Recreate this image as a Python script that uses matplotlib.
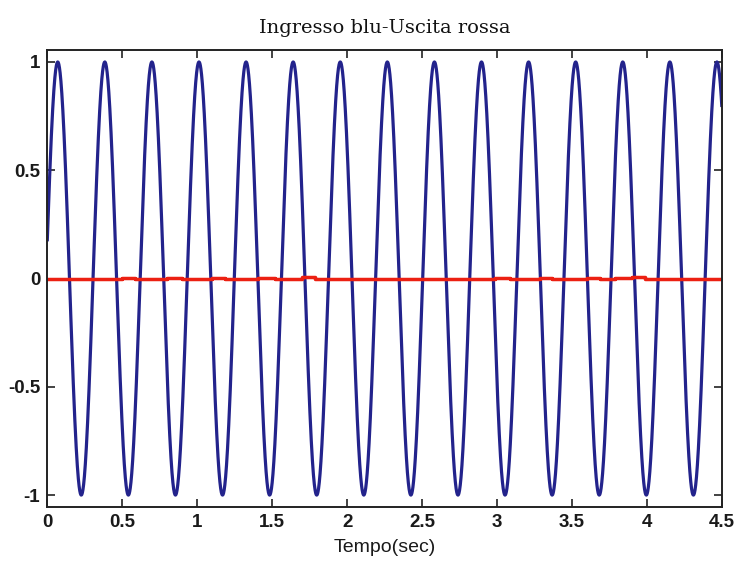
import numpy as np
import matplotlib
matplotlib.use("Agg")
import matplotlib.pyplot as plt

# ---- data ----
title = "Ingresso blu-Uscita rossa"
xlabel = "Tempo(sec)"
x_ticks = [0, 0.5, 1, 1.5, 2, 2.5, 3, 3.5, 4, 4.5]
x_tick_labels = ["0", "0.5", "1", "1.5", "2", "2.5", "3", "3.5", "4", "4.5"]
y_ticks = [-1, -0.5, 0, 0.5, 1]
y_tick_labels = ["-1", "-0.5", "0", "0.5", "1"]

# input (blue): sinusoid parameters
in_amplitude = 1.0
in_omega = 20.0      # rad/s (15 peaks over 4.5 s)
in_phase = 0.18      # rad (starts at ~0.18)
t_end = 4.5

# output (red): nearly zero, tiny bumps (step breakpoints)
red_times = [0, 0.50, 0.585, 0.80, 0.90, 0.95, 1.10, 1.185, 1.405, 1.52, 1.70,
             1.785, 1.85, 2.99, 3.085, 3.29, 3.37, 3.60, 3.69, 3.79, 3.90, 3.99, 4.5]
red_values = [0, 0.004, 0, 0.004, -0.002, 0, 0.004, 0, 0.003, 0, 0.006,
              -0.002, 0, 0.004, 0, 0.004, 0, 0.003, 0, 0.004, 0.006, 0, 0]

# ---- drawing ----
fig = plt.figure(figsize=(7.38, 5.69), dpi=100)
ax = fig.add_axes([0.0641, 0.109, 0.978 - 0.0641, 0.912 - 0.109])

t = np.linspace(0, t_end, 6000)
blue = in_amplitude * np.sin(in_omega * t + in_phase)
ax.plot(t, blue, color="#23238c", lw=2.3)
ax.plot(red_times, red_values, color="#ec2012", lw=2.5, drawstyle="steps-post")

ax.set_xlim(0, 4.5)
ax.set_ylim(-1.055, 1.055)

tick_font = dict(family=["Liberation Sans", "DejaVu Sans"], size=13.5, weight="bold")
ax.set_xticks(x_ticks)
ax.set_xticklabels(x_tick_labels, fontdict=tick_font, color="#1a1a1a")
ax.set_yticks(y_ticks)
ax.set_yticklabels(y_tick_labels, fontdict=tick_font, color="#1a1a1a")
ax.tick_params(direction="in", length=6, width=1.2, top=True, right=True, pad=5,
               color="#222222")
for s in ax.spines.values():
    s.set_linewidth(1.4)
    s.set_color("#222222")

ax.set_xlabel(xlabel, family=["Liberation Sans", "DejaVu Sans"], size=14,
              color="#1a1a1a", labelpad=6)
ax.set_title(title, family=["DejaVu Serif"], size=14,
             color="#111111", pad=12)

fig.savefig("out.png", dpi=100)
